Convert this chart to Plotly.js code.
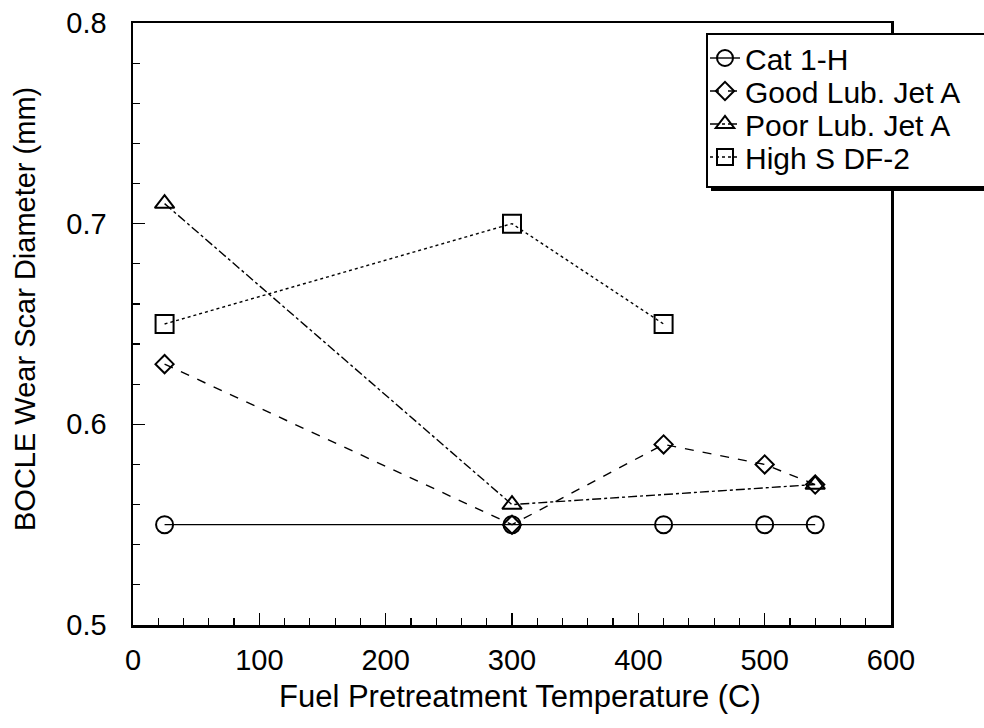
<!DOCTYPE html>
<html><head><meta charset="utf-8">
<script src="https://cdn.plot.ly/plotly-3.0.1.min.js"></script>
<style>body{margin:0;background:#fff}#c{width:984px;height:728px}</style>
</head><body><div id="c"></div>
<script>
const catX = [25, 300, 420, 500, 540];
const catY = [0.55, 0.55, 0.55, 0.55, 0.55];
const goodX = [25, 300, 420, 500, 540];
const goodY = [0.63, 0.55, 0.59, 0.58, 0.57];
const poorX = [25, 300, 540];
const poorY = [0.71, 0.56, 0.57];
const highX = [25, 300, 420];
const highY = [0.65, 0.70, 0.65];
const names = ['Cat 1-H', 'Good Lub. Jet A', 'Poor Lub. Jet A', 'High S DF-2'];
const xTicks = [0, 100, 200, 300, 400, 500, 600];
const yTicks = [0.5, 0.6, 0.7, 0.8];
const xTitle = 'Fuel Pretreatment Temperature (C)';
const yTitle = 'BOCLE Wear Scar Diameter (mm)';

const L = 133, R = 891, T = 23, B = 625, W = 984, H = 728;
const pw = R - L, ph = B - T;
const px = v => (v - L) / pw;
const py = v => (B - v) / ph;

const legendIds = ['legend', 'legend2', 'legend3', 'legend4'];
function tr(x, y, i, dash, sym, size) {
  return {x: x, y: y, name: names[i], legend: legendIds[i], type: 'scatter', mode: 'lines+markers',
    line: {color: '#000', width: 1.4, dash: dash},
    marker: {symbol: sym, size: size, color: '#000', line: {color: '#000', width: 2}},
    cliponaxis: false};
}
const data = [
  tr(catX, catY, 0, 'solid', 'circle-open', 17),
  tr(goodX, goodY, 1, 'dash', 'diamond-open', 14),
  tr(poorX, poorY, 2, 'dashdot', 'triangle-up-open', 17),
  tr(highX, highY, 3, 'dot', 'square-open', 18)
];

const fontF = 'Liberation Sans, Arial, sans-serif';
const legendRows = [58, 91, 124, 157];
const layout = {
  width: W, height: H,
  margin: {l: L, r: W - R, t: T, b: H - B},
  paper_bgcolor: '#fff', plot_bgcolor: '#fff',
  showlegend: true,
  font: {family: fontF, color: '#000'},
  xaxis: {range: [0, 600], tickvals: xTicks, ticktext: xTicks.map(String),
    ticks: 'inside', ticklen: 12, tickwidth: 1.5, tickcolor: '#000',
    minor: {dtick: 20, ticks: 'inside', ticklen: 7, tickwidth: 1.2, tickcolor: '#000'},
    showgrid: false, zeroline: false, showline: true, linecolor: '#000', linewidth: 2.5, mirror: true,
    tickfont: {size: 29, family: fontF}, ticklabelstandoff: 8},
  yaxis: {range: [0.5, 0.8], tickvals: yTicks, ticktext: yTicks.map(v => v.toFixed(1)),
    ticks: 'inside', ticklen: 12, tickwidth: 1.5, tickcolor: '#000',
    minor: {dtick: 0.02, ticks: 'inside', ticklen: 7, tickwidth: 1.2, tickcolor: '#000'},
    showgrid: false, zeroline: false, showline: true, linecolor: '#000', linewidth: 2.5, mirror: true,
    tickfont: {size: 29, family: fontF}, ticklabelstandoff: 18},
  annotations: [
    {text: xTitle, xref: 'paper', yref: 'paper', x: px(520), y: py(697), xanchor: 'center', yanchor: 'middle',
     showarrow: false, font: {size: 31, family: fontF}},
    {text: yTitle, xref: 'paper', yref: 'paper', x: px(25), y: py(309), xanchor: 'center', yanchor: 'middle',
     textangle: -90, showarrow: false, font: {size: 29, family: fontF}}
  ],
  shapes: [
    {type: 'rect', xref: 'paper', yref: 'paper', x0: px(711), x1: px(990), y0: py(191), y1: py(38),
     fillcolor: '#000', line: {width: 0}, layer: 'above'},
    {type: 'rect', xref: 'paper', yref: 'paper', x0: px(707), x1: px(985), y0: py(187), y1: py(34),
     fillcolor: '#fff', line: {color: '#000', width: 2}, layer: 'above'}
  ]
};
legendIds.forEach((id, i) => {
  layout[id] = {x: px(705), y: py(legendRows[i]), xanchor: 'left', yanchor: 'middle',
    bgcolor: 'rgba(0,0,0,0)', borderwidth: 0,
    font: {size: 30, family: fontF}, itemwidth: 30};
});
Plotly.newPlot('c', data, layout, {displayModeBar: false, staticPlot: true});
</script></body></html>
